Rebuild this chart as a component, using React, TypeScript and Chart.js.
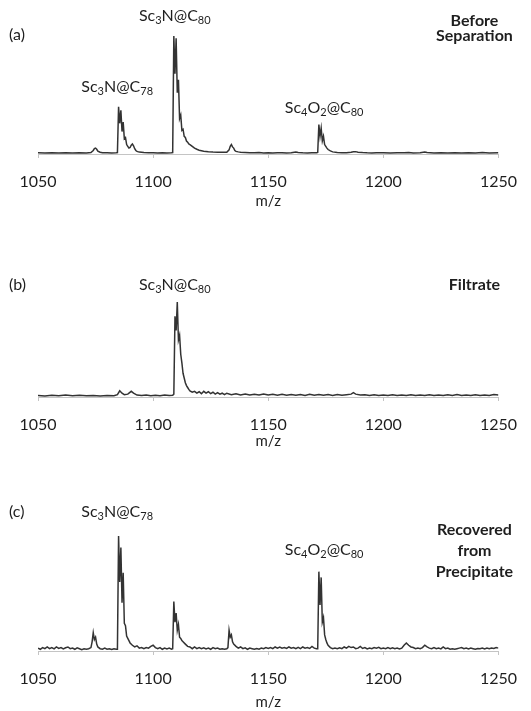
import React, { useEffect, useRef } from "react";
import { Chart, registerables } from "chart.js";

Chart.register(...registerables);

// ---------- data ----------
const X_MIN = 1050;
const X_MAX = 1250;
const X_TICKS = [1050, 1100, 1150, 1200, 1250];
const X_TITLE = "m/z";

// (a) Before Separation: [m/z, relative intensity %]
const SPEC_A: [number, number][] = [
  [1050, 1.0], [1053, 0.8], [1056, 1.1], [1059, 0.9], [1062, 1.0], [1065, 0.8], [1068, 1.0], [1071, 0.9],
  [1073, 1.2], [1074, 3.0], [1074.5, 4.5], [1075, 5.0], [1075.5, 4.0], [1076, 2.5], [1077, 1.5], [1078, 1.0],
  [1080, 1.1], [1082, 0.9], [1084, 1.0], [1084.5, 1.2], [1085, 40], [1085.5, 26], [1086, 37], [1086.5, 19],
  [1087, 27], [1087.5, 13], [1088, 14], [1088.5, 8], [1089, 6.5], [1089.5, 5], [1090, 5.5], [1090.5, 7.5],
  [1091, 8.5], [1091.5, 7], [1092, 4.5], [1092.5, 3], [1093, 2.2], [1094, 1.6], [1096, 1.2], [1098, 1.0],
  [1100, 1.1], [1102, 0.9], [1104, 1.0], [1106, 0.9], [1108, 1.0], [1108.5, 1.2], [1109, 100], [1109.5, 68],
  [1110, 98], [1110.5, 52], [1111, 63], [1111.5, 30], [1112, 33], [1112.5, 20], [1113, 21], [1113.5, 15],
  [1114, 14], [1114.5, 11], [1115, 10], [1115.5, 8.5], [1116, 8], [1117, 6.5], [1118, 5], [1119, 4],
  [1120, 3.2], [1121, 2.8], [1122, 2.4], [1124, 2.0], [1126, 1.7], [1128, 1.5], [1130, 1.4], [1132, 1.5],
  [1133, 3.5], [1133.5, 6.5], [1134, 8], [1134.5, 6], [1135, 5], [1135.5, 3], [1136, 2.2], [1137, 1.8],
  [1138, 1.5], [1140, 1.3], [1142, 1.1], [1144, 1.0], [1146, 1.2], [1148, 0.9], [1150, 1.0], [1152, 0.8],
  [1154, 1.0], [1156, 1.1], [1158, 0.9], [1160, 1.0], [1162, 1.6], [1163, 1.2], [1165, 1.0], [1167, 0.9],
  [1169, 1.0], [1171, 1.1], [1171.5, 1.3], [1172, 25], [1172.5, 15], [1173, 22], [1173.5, 11], [1174, 15],
  [1174.5, 8], [1175, 6.5], [1175.5, 5], [1176, 3.8], [1177, 2.6], [1178, 1.8], [1180, 1.3], [1182, 1.1],
  [1184, 1.0], [1186, 1.4], [1187, 1.9], [1188, 2.0], [1189, 1.5], [1191, 1.2], [1193, 1.0], [1195, 0.9],
  [1197, 1.1], [1200, 1.0], [1203, 0.8], [1206, 1.0], [1209, 1.1], [1211, 1.3], [1213, 0.9], [1216, 1.0],
  [1218, 1.7], [1219, 1.2], [1222, 0.9], [1225, 1.0], [1228, 0.8], [1231, 1.0], [1234, 0.9], [1237, 1.1],
  [1240, 0.9], [1243, 1.2], [1246, 0.8], [1250, 1.0],
];

// (b) Filtrate
const SPEC_B: [number, number][] = [
  [1050, 1.5], [1053, 1.0], [1056, 1.8], [1059, 1.2], [1062, 2.0], [1065, 1.3], [1068, 1.8], [1071, 1.2],
  [1074, 1.6], [1077, 1.1], [1080, 1.7], [1083, 1.3], [1084.5, 2.5], [1085.5, 6.5], [1086.5, 4], [1087.5, 2.5],
  [1089, 3], [1090.5, 6], [1091.5, 4], [1093, 2], [1095, 1.5], [1097, 2.0], [1099, 1.2], [1101, 1.8],
  [1103, 1.3], [1105, 2.2], [1107, 1.5], [1108.5, 1.8], [1109, 3], [1109.5, 85], [1110, 70], [1110.5, 100],
  [1111, 60], [1111.5, 65], [1112, 45], [1112.5, 36], [1113, 25], [1113.5, 20], [1114, 15], [1114.5, 12],
  [1115, 10], [1115.5, 8], [1116, 6.5], [1117, 5], [1118, 6], [1119, 4], [1120, 5.5], [1121, 3.5],
  [1122, 6], [1123, 4], [1124, 5.5], [1125, 3.5], [1126, 5], [1127, 3], [1128, 4.5], [1129, 3],
  [1130, 4], [1131, 2.5], [1132, 4], [1134, 2.5], [1136, 3.5], [1138, 2.2], [1140, 3.2], [1142, 2],
  [1144, 3], [1146, 2], [1148, 3.2], [1150, 2], [1152, 2.8], [1154, 1.8], [1156, 2.8], [1158, 1.8],
  [1160, 2.5], [1162, 1.8], [1164, 2.5], [1166, 1.6], [1168, 2.8], [1170, 1.8], [1172, 2.6], [1174, 1.8],
  [1176, 2.5], [1178, 1.7], [1180, 2.6], [1182, 1.8], [1184, 2.4], [1186, 3], [1187, 4.5], [1188, 3],
  [1190, 2], [1192, 2.4], [1194, 1.6], [1196, 2.4], [1198, 1.6], [1200, 2.2], [1202, 1.5], [1204, 2.3],
  [1206, 1.5], [1208, 2.2], [1210, 1.5], [1212, 2.4], [1214, 1.6], [1216, 2.2], [1218, 1.5], [1220, 2.4],
  [1222, 1.7], [1224, 2.2], [1226, 1.5], [1228, 2.3], [1230, 1.6], [1232, 2.5], [1234, 1.6], [1236, 2.2],
  [1238, 1.5], [1240, 2.4], [1242, 1.6], [1244, 2.2], [1246, 1.6], [1248, 2.5], [1250, 2.0],
];

// (c) Recovered from Precipitate
const SPEC_C: [number, number][] = [
  [1050, 2.5], [1051, 1.5], [1052, 3], [1053, 2], [1054, 3.5], [1055, 2], [1056, 3], [1057, 1.8],
  [1058, 3.5], [1059, 2.2], [1060, 3], [1061, 1.8], [1062, 2.8], [1063, 3.5], [1064, 2], [1065, 2.5],
  [1066, 1.5], [1067, 2.8], [1068, 2], [1069, 1.2], [1070, 2], [1071, 1.5], [1072, 2], [1073, 3],
  [1073.5, 8], [1074, 16], [1074.5, 10], [1075, 12], [1075.5, 6], [1076, 3.5], [1077, 2], [1078, 1.5],
  [1079, 2.5], [1080, 1.5], [1081, 2], [1082, 1.3], [1083, 2], [1084, 1.5], [1084.5, 1.5], [1085, 100],
  [1085.5, 60], [1086, 90], [1086.5, 42], [1087, 68], [1087.5, 24], [1088, 22], [1088.5, 13], [1089, 11],
  [1089.5, 9], [1090, 7], [1091, 5], [1092, 3.5], [1093, 4.5], [1094, 2.5], [1095, 3], [1096, 2],
  [1097, 3], [1098, 2.5], [1099, 4], [1100, 5], [1101, 3], [1102, 2], [1103, 3], [1104, 1.5],
  [1105, 2.5], [1106, 1.8], [1107, 2.5], [1108, 1.5], [1108.5, 2], [1109, 43], [1109.5, 25], [1110, 33],
  [1110.5, 18], [1111, 23], [1111.5, 12], [1112, 11], [1112.5, 9], [1113, 8], [1114, 6], [1115, 4],
  [1116, 3.5], [1117, 2], [1118, 3.5], [1119, 2], [1120, 3], [1121, 2], [1122, 2.8], [1123, 1.8],
  [1124, 2.5], [1125, 1.5], [1126, 3], [1127, 2], [1128, 2.5], [1129, 1.5], [1130, 2], [1131, 1.5],
  [1132, 2], [1132.5, 3], [1133, 18], [1133.5, 12], [1134, 14], [1134.5, 8], [1135, 6], [1136, 4],
  [1137, 2.5], [1138, 3.5], [1139, 2], [1140, 2.8], [1141, 1.5], [1142, 2.5], [1143, 2], [1144, 1.5],
  [1145, 2.2], [1146, 1.5], [1147, 2.5], [1148, 2], [1149, 3], [1150, 2.2], [1151, 3], [1152, 2],
  [1153, 3.5], [1154, 2.5], [1155, 3.5], [1156, 2.5], [1157, 3], [1158, 2.2], [1159, 3.5], [1160, 2.5],
  [1161, 3], [1162, 2], [1163, 3.2], [1164, 2], [1165, 3.5], [1166, 2.5], [1167, 3], [1168, 2.2],
  [1169, 4], [1170, 2.5], [1171, 2], [1171.5, 2], [1172, 69], [1172.5, 40], [1173, 64], [1173.5, 25],
  [1174, 29], [1174.5, 14], [1175, 10], [1175.5, 7], [1176, 5], [1177, 3], [1178, 2], [1179, 2.5],
  [1180, 2], [1181, 2.8], [1182, 2], [1183, 3.5], [1184, 2.5], [1185, 4], [1186, 3], [1187, 3.5],
  [1188, 2], [1189, 2.5], [1190, 4], [1191, 2.2], [1192, 3], [1193, 1.8], [1194, 2.5], [1195, 2],
  [1196, 3], [1197, 2.5], [1198, 3.2], [1199, 2], [1200, 2.5], [1201, 2], [1202, 3], [1203, 2],
  [1204, 2.8], [1205, 2], [1206, 2.5], [1207, 1.8], [1208, 2.5], [1209, 5], [1210, 7], [1211, 5],
  [1212, 3.5], [1213, 3], [1214, 2], [1215, 2.5], [1216, 2], [1217, 3], [1218, 5], [1219, 3.5],
  [1220, 2.5], [1221, 2], [1222, 3], [1223, 2], [1224, 2.5], [1225, 1.8], [1226, 3.5], [1227, 2],
  [1228, 2.5], [1229, 1.5], [1230, 2], [1231, 1.5], [1232, 2], [1233, 2.5], [1234, 3], [1235, 2],
  [1236, 2.5], [1237, 1.8], [1238, 2.5], [1239, 2], [1240, 1.5], [1241, 2.2], [1242, 2], [1243, 2.5],
  [1244, 1.8], [1245, 2.5], [1246, 2], [1247, 2.5], [1248, 2.2], [1249, 3], [1250, 2.5],
];

// rich labels: [text, isSubscript]
type Part = [string, number];
const SC3N_C80: Part[] = [["Sc", 0], ["3", 1], ["N@C", 0], ["80", 1]];
const SC3N_C78: Part[] = [["Sc", 0], ["3", 1], ["N@C", 0], ["78", 1]];
const SC4O2_C80: Part[] = [["Sc", 0], ["4", 1], ["O", 0], ["2", 1], ["@C", 0], ["80", 1]];

const PEAK_LABELS_A = [
  { parts: SC3N_C80, mz: 1109.4, y: 16 },
  { parts: SC3N_C78, mz: 1084.4, y: 87 },
  { parts: SC4O2_C80, mz: 1174.3, y: 108 },
];
const PEAK_LABELS_B = [{ parts: SC3N_C80, mz: 1109.4, y: 65 }];
const PEAK_LABELS_C = [
  { parts: SC3N_C78, mz: 1084.4, y: 57 },
  { parts: SC4O2_C80, mz: 1174.3, y: 95 },
];

const PANEL_TAGS = ["(a)", "(b)", "(c)"];
const SAMPLE_A = ["Before", "Separation"];
const SAMPLE_B = ["Filtrate"];
const SAMPLE_C = ["Recovered", "from", "Precipitate"];

// ---------- drawing ----------
const FONT = 'Lato, "Open Sans", "DejaVu Sans", sans-serif';
const TEXT = "#1e1e1e";
const LINE = "#333333";
const AXIS = "#c4c4c4";

function drawRich(ctx: CanvasRenderingContext2D, parts: Part[], cx: number, cy: number, size: number) {
  const sub = Math.round(size * 0.68);
  let w = 0;
  for (const [t, s] of parts) {
    ctx.font = `${s ? sub : size}px ${FONT}`;
    w += ctx.measureText(t).width;
  }
  let x = cx - w / 2;
  ctx.textAlign = "left";
  ctx.textBaseline = "middle";
  for (const [t, s] of parts) {
    ctx.font = `${s ? sub : size}px ${FONT}`;
    ctx.fillText(t, x, s ? cy + size * 0.3 : cy);
    x += ctx.measureText(t).width;
  }
}

type PanelProps = {
  data: [number, number][];
  top: number;
  height: number;
  padTop: number;
  axisH: number;
  tag: string;
  tagY: number;
  labels: { parts: Part[]; mz: number; y: number }[];
  sample: string[];
  sampleY: number;
  sampleGap: number;
};

function Panel(p: PanelProps) {
  const ref = useRef<HTMLCanvasElement | null>(null);
  useEffect(() => {
    const canvas = ref.current;
    if (!canvas) return;
    const annot = {
      id: "annot",
      afterDraw(chart: any) {
        const ctx = chart.ctx as CanvasRenderingContext2D;
        const xs = chart.scales.x;
        ctx.save();
        ctx.fillStyle = TEXT;
        ctx.font = `16px ${FONT}`;
        ctx.textAlign = "left";
        ctx.textBaseline = "middle";
        ctx.fillText(p.tag, 9, p.tagY);
        for (const l of p.labels) {
          drawRich(ctx, l.parts, xs.getPixelForValue(l.mz), l.y, 16);
        }
        ctx.font = `bold 16px ${FONT}`;
        ctx.textAlign = "center";
        const cx = chart.chartArea.right - 24;
        p.sample.forEach((s, i) => ctx.fillText(s, cx, p.sampleY + i * p.sampleGap));
        ctx.restore();
      },
    };
    const chart = new Chart(canvas, {
      type: "line",
      data: {
        datasets: [
          {
            data: p.data.map(([x, y]) => ({ x, y })),
            borderColor: LINE,
            borderWidth: 1.5,
            pointRadius: 0,
            tension: 0,
            fill: false,
          },
        ],
      },
      options: {
        animation: false,
        responsive: false,
        maintainAspectRatio: false,
        layout: { padding: { left: 38, right: 28, top: p.padTop, bottom: 0 } },
        plugins: { legend: { display: false }, tooltip: { enabled: false } },
        scales: {
          x: {
            type: "linear",
            min: X_MIN,
            max: X_MAX,
            afterBuildTicks: (s: any) => {
              s.ticks = X_TICKS.map((v) => ({ value: v }));
            },
            ticks: {
              autoSkip: false,
              maxRotation: 0,
              padding: 14,
              color: TEXT,
              font: { family: FONT, size: 16 },
              callback: (v: any) => String(v),
            },
            grid: { drawOnChartArea: false, drawTicks: true, tickLength: 4, color: AXIS },
            border: { color: AXIS, width: 1 },
            title: { display: true, text: X_TITLE, color: TEXT, font: { family: FONT, size: 15 }, padding: 0 },
            afterFit: (s: any) => {
              s.height = p.axisH;
            },
          } as any,
          y: { display: false, min: 0, max: 100 },
        },
      },
      plugins: [annot],
    } as any);
    return () => chart.destroy();
  }, []);
  return (
    <div style={{ position: "absolute", left: 0, top: p.top, width: 531, height: p.height }}>
      <canvas ref={ref} width={531} height={p.height} style={{ width: 531, height: p.height, display: "block" }} />
    </div>
  );
}

export default function App() {
  return (
    <div style={{ position: "absolute", left: 0, top: 0, width: 531, height: 711, overflow: "hidden", background: "#fff" }}>
      <Panel data={SPEC_A} top={0} height={210} padTop={36} axisH={56} tag={PANEL_TAGS[0]} tagY={35}
        labels={PEAK_LABELS_A} sample={SAMPLE_A} sampleY={21} sampleGap={15} />
      <Panel data={SPEC_B} top={220} height={230} padTop={82} axisH={53} tag={PANEL_TAGS[1]} tagY={65}
        labels={PEAK_LABELS_B} sample={SAMPLE_B} sampleY={65} sampleGap={15} />
      <Panel data={SPEC_C} top={455} height={256} padTop={81} axisH={60} tag={PANEL_TAGS[2]} tagY={57}
        labels={PEAK_LABELS_C} sample={SAMPLE_C} sampleY={75} sampleGap={21} />
    </div>
  );
}
